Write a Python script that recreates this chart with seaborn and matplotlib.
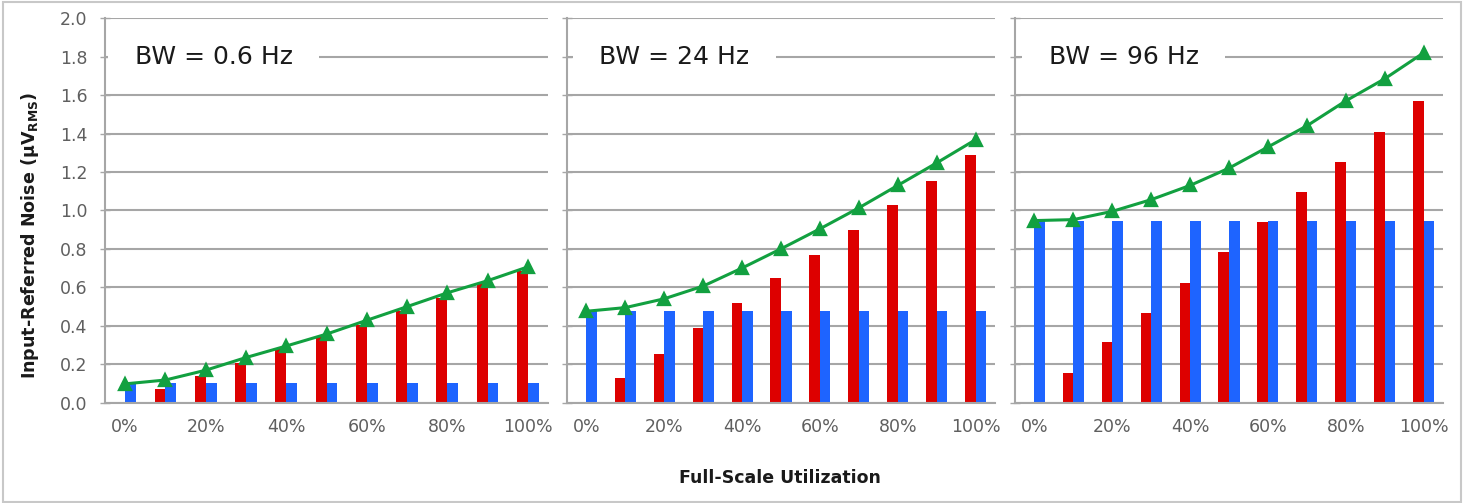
import numpy as np
import pandas as pd
import matplotlib
matplotlib.use("Agg")
import matplotlib.pyplot as plt
import matplotlib.transforms as mtransforms
from matplotlib.patches import Rectangle
import seaborn as sns

# ---------------- data ----------------
categories = ['0%', '10%', '20%', '30%', '40%', '50%', '60%', '70%', '80%', '90%', '100%']
tick_labels = ['0%', '20%', '40%', '60%', '80%', '100%']
panel_titles = ['BW = 0.6 Hz', 'BW = 24 Hz', 'BW = 96 Hz']

red_bw06 = [0.0, 0.069, 0.138, 0.208, 0.277, 0.340, 0.405, 0.476, 0.545, 0.623, 0.686]
blue_bw06 = [0.10, 0.10, 0.10, 0.10, 0.10, 0.10, 0.10, 0.10, 0.10, 0.10, 0.10]
green_bw06 = [0.097, 0.117, 0.168, 0.234, 0.294, 0.356, 0.428, 0.499, 0.571, 0.634, 0.706]

red_bw24 = [0.0, 0.130, 0.255, 0.386, 0.516, 0.646, 0.767, 0.897, 1.026, 1.151, 1.286]
blue_bw24 = [0.476, 0.476, 0.476, 0.476, 0.476, 0.476, 0.476, 0.476, 0.476, 0.476, 0.476]
green_bw24 = [0.475, 0.494, 0.540, 0.606, 0.700, 0.800, 0.904, 1.013, 1.130, 1.247, 1.368]

red_bw96 = [0.0, 0.156, 0.317, 0.468, 0.623, 0.784, 0.938, 1.094, 1.252, 1.406, 1.567]
blue_bw96 = [0.947, 0.947, 0.947, 0.947, 0.947, 0.947, 0.947, 0.947, 0.947, 0.947, 0.947]
green_bw96 = [0.947, 0.952, 0.995, 1.056, 1.130, 1.220, 1.330, 1.440, 1.570, 1.685, 1.820]

red_series = [red_bw06, red_bw24, red_bw96]
blue_series = [blue_bw06, blue_bw24, blue_bw96]
green_series = [green_bw06, green_bw24, green_bw96]

# ---------------- style ----------------
RED = '#dd0000'
BLUE = '#1e64ff'
GREEN = '#12a040'
GRID = '#a6a6a6'
TICKC = '#5f5f5f'

sns.set_style('white')
plt.rcParams['font.family'] = ['DejaVu Sans']
plt.rcParams['mathtext.fontset'] = 'dejavusans'

W, H = 1465, 503
fig = plt.figure(figsize=(W / 100, H / 100), dpi=100)

panels = [(105, 443), (567, 428), (1015, 428)]
text_x = [0.0135, 0.019, 0.023]
top_px, bot_px = 18.3, 402.5

for i, (left, width) in enumerate(panels):
    ax = fig.add_axes([left / W, (H - bot_px) / H, width / W, (bot_px - top_px) / H])
    df = pd.DataFrame({
        'util': categories * 2,
        'noise': red_series[i] + blue_series[i],
        'series': ['red'] * len(categories) + ['blue'] * len(categories),
    })
    sns.barplot(data=df, x='util', y='noise', hue='series', order=categories,
                hue_order=['red', 'blue'], palette={'red': RED, 'blue': BLUE},
                width=0.54, saturation=1, errorbar=None, legend=False,
                linewidth=0, ax=ax)
    sns.pointplot(x=categories, y=green_series[i], order=categories, color=GREEN,
                  markers='^', errorbar=None, ax=ax,
                  markersize=8, linewidth=2.2)

    ax.set_xlim(-0.5, 10.5)
    ax.set_ylim(0, 2.0)
    ax.set_yticks(np.round(np.arange(0, 2.01, 0.2), 1))
    ax.set_yticklabels([f'{v:.1f}' for v in np.arange(0, 2.01, 0.2)])
    ax.yaxis.grid(True, color=GRID, linewidth=1.5)
    ax.xaxis.grid(False)
    ax.set_axisbelow(True)

    ax.set_xticks([0, 2, 4, 6, 8, 10])
    ax.set_xticklabels(tick_labels)
    ax.set_xticks([-0.5, 1.5, 3.5, 5.5, 7.5, 9.5], minor=True)
    ax.tick_params(axis='x', which='major', length=0, pad=11, labelsize=12.5,
                   labelcolor=TICKC)
    ax.tick_params(axis='x', which='minor', length=3.5, width=1, color=GRID,
                   direction='out')
    ax.tick_params(axis='y', which='major', length=7, width=1, color=GRID,
                   direction='inout', pad=9, labelsize=12.5, labelcolor=TICKC,
                   left=True)
    if i > 0:
        ax.tick_params(axis='y', labelleft=False)

    for s in ['top', 'right']:
        ax.spines[s].set_visible(False)
    for s in ['left', 'bottom']:
        ax.spines[s].set_color(GRID)
        ax.spines[s].set_linewidth(1.5)
    ax.set_xlabel('')
    ax.set_ylabel('')

    trans = mtransforms.blended_transform_factory(ax.transAxes, ax.transData)
    ax.text(text_x[i], 1.8, '   ' + panel_titles[i] + '   ', transform=trans,
            fontsize=18, color='#1a1a1a', ha='left', va='center', zorder=3,
            bbox=dict(boxstyle='square,pad=0.1', facecolor='white', edgecolor='none'))

fig.text(30 / W, 1 - 235 / H, 'Input-Referred Noise (µV$_{\\mathbf{RMS}}$)',
         rotation=90, ha='center', va='center', fontsize=12.6, fontweight='bold',
         color='#1a1a1a')
fig.text(780 / W, 1 - 478 / H, 'Full-Scale Utilization', ha='center', va='center',
         fontsize=12.5, fontweight='bold', color='#1a1a1a')

fig.patches.append(Rectangle((3 / W, 1.5 / H), (1461 - 3) / W, (501 - 1.5) / H,
                             transform=fig.transFigure, fill=False,
                             edgecolor='#c8c8c8', linewidth=1.5))

fig.savefig('out.png', dpi=100)
